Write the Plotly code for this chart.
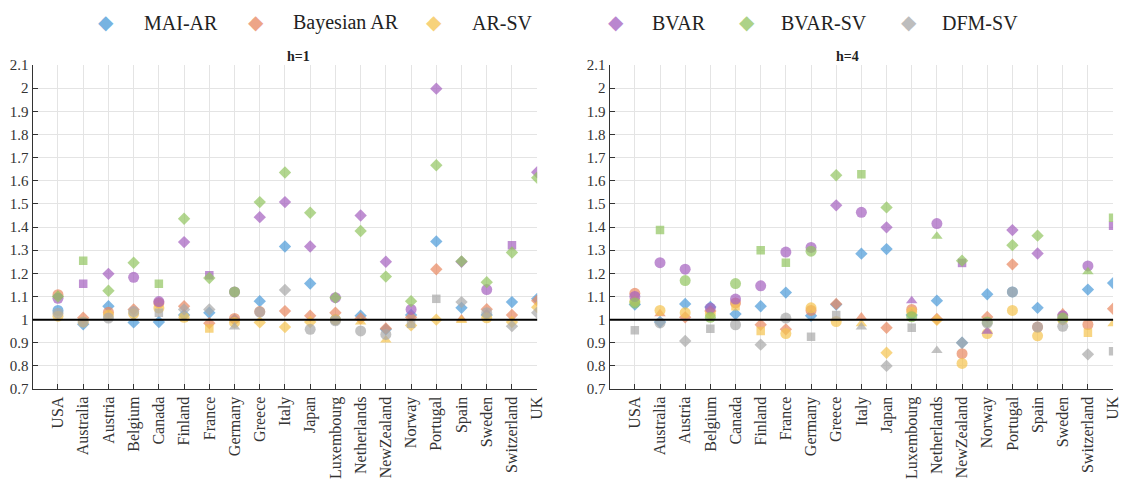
import plotly.graph_objects as go
from plotly.subplots import make_subplots

countries = ["USA", "Australia", "Austria", "Belgium", "Canada", "Finland", "France", "Germany",
             "Greece", "Italy", "Japan", "Luxembourg", "Netherlands", "NewZealand", "Norway",
             "Portugal", "Spain", "Sweden", "Switzerland", "UK"]
models = ["MAI-AR", "Bayesian AR", "AR-SV", "BVAR", "BVAR-SV", "DFM-SV"]
colors = ["#4a9ad8", "#e8875f", "#f5c34f", "#a45fbf", "#92c460", "#a8a8a8"]

# h=1 relative RMSE values
h1_mai_ar = [1.04, 0.98, 1.058, 0.988, 0.99, 1.02, 1.03, 1.0, 1.08, 1.316, 1.156, 1.0, 1.017, 0.958, 1.02, 1.338, 1.051, 1.02, 1.076, 1.09]
h1_bayes_ar = [1.108, 1.008, 1.032, 1.044, 1.072, 1.058, 0.985, 1.005, 1.035, 1.037, 1.017, 1.03, 1.005, 0.962, 1.01, 1.218, 1.003, 1.045, 1.02, 1.082]
h1_ar_sv = [1.015, 0.99, 1.02, 1.026, 1.05, 1.01, 0.962, 0.988, 0.988, 0.968, 0.99, 1.0, 0.99, 0.912, 0.975, 1.0, 0.996, 1.008, 0.99, 1.054]
h1_bvar = [1.092, 1.155, 1.198, 1.183, 1.078, 1.335, 1.192, 1.12, 1.443, 1.508, 1.316, 1.095, 1.45, 1.25, 1.044, 1.998, 1.25, 1.13, 1.322, 1.637]
h1_bvar_sv = [1.10, 1.255, 1.125, 1.246, 1.155, 1.436, 1.18, 1.12, 1.508, 1.636, 1.462, 1.095, 1.383, 1.186, 1.08, 1.667, 1.252, 1.162, 1.29, 1.613]
h1_dfm_sv = [1.028, 0.99, 1.007, 1.035, 1.03, 1.044, 1.044, 0.968, 1.033, 1.128, 0.958, 0.995, 0.951, 0.936, 0.982, 1.09, 1.076, 1.03, 0.972, 1.03]

h1_mai_ar_sym = ["o", "d", "d", "d", "d", "d", "d", "d", "d", "d", "d", "o", "d", "d", "d", "d", "d", "d", "d", "d"]
h1_bayes_ar_sym = ["o", "d", "o", "d", "o", "d", "d", "o", "o", "d", "d", "d", "d", "d", "d", "d", "^", "d", "d", "d"]
h1_ar_sv_sym = ["o", "o", "o", "o", "o", "o", "s", "o", "d", "d", "d", "o", "^", "^", "d", "d", "^", "o", "d", "d"]
h1_bvar_sym = ["o", "s", "d", "o", "o", "d", "s", "o", "d", "d", "d", "o", "d", "d", "o", "d", "d", "o", "s", "d"]
h1_bvar_sv_sym = ["d", "s", "d", "d", "s", "d", "d", "o", "d", "d", "d", "d", "d", "d", "d", "d", "d", "d", "d", "d"]
h1_dfm_sv_sym = ["o", "o", "o", "o", "s", "d", "d", "^", "o", "d", "o", "o", "o", "o", "s", "s", "d", "o", "d", "d"]

# h=4 relative RMSE values
h4_mai_ar = [1.065, 0.99, 1.068, 1.055, 1.024, 1.058, 1.117, 1.017, 1.065, 1.285, 1.305, 1.02, 1.082, 0.90, 1.11, 1.12, 1.051, 1.0, 1.13, 1.158]
h4_bayes_ar = [1.114, 1.025, 1.01, 1.037, 1.072, 0.978, 0.958, 1.04, 1.068, 1.012, 0.965, 1.044, 1.003, 0.853, 1.012, 1.239, 0.968, 1.03, 0.979, 1.047]
h4_ar_sv = [1.08, 1.04, 1.03, 1.026, 1.058, 0.951, 0.94, 1.051, 0.992, 0.982, 0.857, 1.033, 0.999, 0.811, 0.94, 1.04, 0.93, 1.0, 0.943, 0.982]
h4_bvar = [1.10, 1.246, 1.218, 1.05, 1.089, 1.146, 1.292, 1.312, 1.494, 1.464, 1.399, 1.082, 1.415, 1.245, 0.95, 1.387, 1.286, 1.017, 1.232, 1.406]
h4_bvar_sv = [1.072, 1.387, 1.169, 1.01, 1.156, 1.30, 1.246, 1.296, 1.624, 1.628, 1.485, 1.0125, 1.36, 1.255, 0.99, 1.322, 1.363, 1.007, 1.207, 1.44]
h4_dfm_sv = [0.954, 0.986, 0.908, 0.961, 0.978, 0.892, 1.007, 0.926, 1.02, 0.968, 0.80, 0.965, 0.867, 0.90, 0.985, 1.12, 0.968, 0.971, 0.85, 0.864]

h4_mai_ar_sym = ["d", "d", "d", "d", "d", "d", "d", "d", "d", "d", "d", "d", "d", "d", "d", "o", "d", "d", "d", "d"]
h4_bayes_ar_sym = ["o", "^", "d", "d", "o", "d", "d", "o", "d", "^", "d", "o", "d", "o", "d", "d", "o", "^", "o", "d"]
h4_ar_sv_sym = ["o", "o", "o", "o", "s", "s", "o", "o", "o", "^", "d", "o", "d", "o", "o", "o", "o", "o", "s", "^"]
h4_bvar_sym = ["o", "o", "o", "o", "o", "o", "o", "o", "d", "o", "d", "^", "o", "s", "^", "d", "d", "o", "o", "s"]
h4_bvar_sv_sym = ["o", "s", "o", "o", "o", "s", "s", "o", "d", "s", "d", "o", "^", "d", "o", "d", "d", "o", "^", "s"]
h4_dfm_sv_sym = ["s", "o", "d", "s", "o", "d", "o", "s", "s", "^", "d", "s", "^", "d", "o", "o", "o", "o", "d", "s"]

h1_sets = [(h1_mai_ar, h1_mai_ar_sym), (h1_bayes_ar, h1_bayes_ar_sym), (h1_ar_sv, h1_ar_sv_sym),
           (h1_bvar, h1_bvar_sym), (h1_bvar_sv, h1_bvar_sv_sym), (h1_dfm_sv, h1_dfm_sv_sym)]
h4_sets = [(h4_mai_ar, h4_mai_ar_sym), (h4_bayes_ar, h4_bayes_ar_sym), (h4_ar_sv, h4_ar_sv_sym),
           (h4_bvar, h4_bvar_sym), (h4_bvar_sv, h4_bvar_sv_sym), (h4_dfm_sv, h4_dfm_sv_sym)]

sym_map = {"d": "diamond", "o": "circle", "s": "square", "^": "triangle-up"}
size_map = {"d": 9.5, "o": 11, "s": 8.5, "^": 10}

FONT = "Liberation Serif, serif"
fig = make_subplots(rows=1, cols=2, horizontal_spacing=0.06)
xs = list(range(1, len(countries) + 1))

for col, sets in ((1, h1_sets), (2, h4_sets)):
    for m, (vals, syms) in enumerate(sets):
        fig.add_trace(go.Scatter(
            x=xs, y=vals, mode="markers", showlegend=False, hoverinfo="skip", name=models[m],
            marker=dict(color=colors[m], opacity=0.7,
                        symbol=[sym_map[s] for s in syms],
                        size=[size_map[s] for s in syms],
                        line=dict(width=0))), row=1, col=col)

dom1 = [33 / 1133, 541 / 1133]
dom2 = [614 / 1133, 1121 / 1133]
ydom = [1 - 394 / 488, 1 - 59 / 488]

for i, dom in ((1, dom1), (2, dom2)):
    fig.update_xaxes(domain=dom, range=[0, 20], tickmode="array", tickvals=xs, ticktext=countries,
                     tickangle=-90, ticks="inside", ticklen=5, tickcolor="#333",
                     showgrid=True, gridcolor="#e4e4e4", gridwidth=1,
                     showline=True, linecolor="#333", linewidth=1.3, zeroline=False,
                     tickfont=dict(family=FONT, size=16, color="#333"), row=1, col=i)
    fig.update_yaxes(domain=ydom, range=[0.7, 2.1], dtick=0.1, tick0=0.7,
                     ticks="inside", ticklen=5, tickcolor="#333",
                     showgrid=True, gridcolor="#e4e4e4", gridwidth=1,
                     showline=True, linecolor="#333", linewidth=1.3, zeroline=False,
                     tickfont=dict(family=FONT, size=15, color="#333"), row=1, col=i)
    fig.add_hline(y=1, line=dict(color="black", width=2), row=1, col=i)
    fig.add_annotation(text="<b>h=%d</b>" % (1 if i == 1 else 4), xref="paper", yref="paper",
                       x=(dom[0] + dom[1]) / 2, y=1 - 50 / 488, showarrow=False,
                       font=dict(family=FONT, size=14, color="#222"), yanchor="middle")

# legend drawn as text: diamond glyph + label
leg_marker_x = [107, 258, 437, 620, 752, 915]
leg_text_x = [143, 293, 473, 655, 785, 947]
for m, name in enumerate(models):
    fig.add_annotation(text="\u25c6", xref="paper", yref="paper", x=leg_marker_x[m] / 1133, y=1 - 14 / 488,
                       xanchor="center", yanchor="middle", showarrow=False,
                       font=dict(family="DejaVu Sans", size=20, color=colors[m]), opacity=0.75)
    fig.add_annotation(text=name, xref="paper", yref="paper", x=leg_text_x[m] / 1133, y=1 - 15 / 488,
                       xanchor="left", yanchor="middle", showarrow=False,
                       font=dict(family=FONT, size=20, color="#222"))

fig.update_layout(
    width=1133, height=488, margin=dict(l=0, r=0, t=0, b=0),
    paper_bgcolor="white", plot_bgcolor="white", showlegend=False,
)

fig.write_html(
    "out.html",
    config={"displayModeBar": False},
    post_script=("document.documentElement.style.margin='0px';"
                 "document.documentElement.style.overflow='hidden';"
                 "document.body.style.margin='0px';document.body.style.padding='0px';"
                 "document.body.style.overflow='hidden';"),
)
